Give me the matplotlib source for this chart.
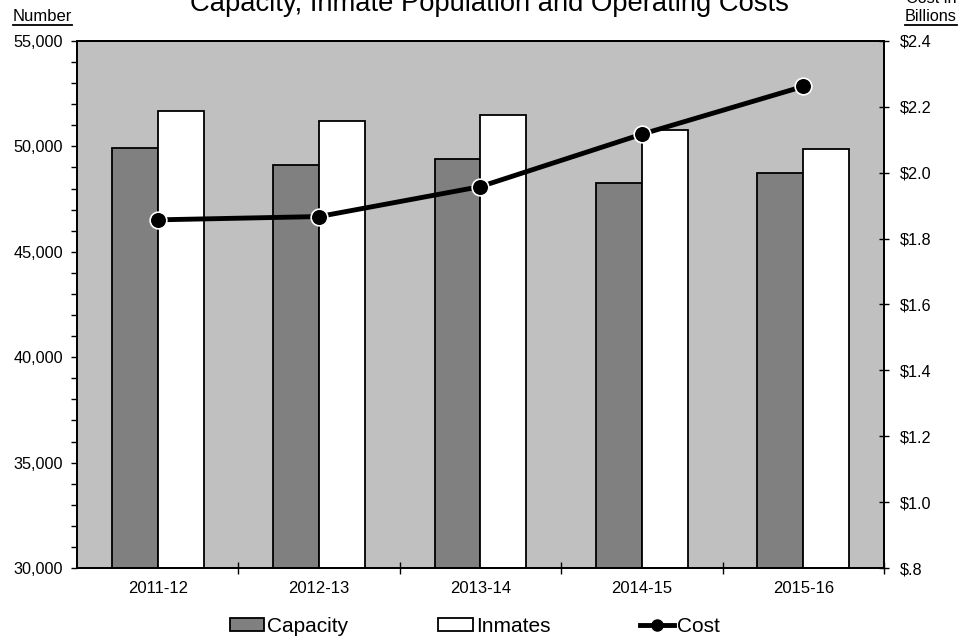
import matplotlib
matplotlib.use("Agg")
import matplotlib.pyplot as plt
from matplotlib.patches import Patch
from matplotlib.lines import Line2D
import numpy as np

# -------------------------------
# DATA
# -------------------------------
years = ["2011-12", "2012-13", "2013-14", "2014-15", "2015-16"]
capacity = [49930, 49110, 49380, 48280, 48750]
inmates = [51680, 51220, 51510, 50780, 49860]
cost = [1.857, 1.867, 1.958, 2.117, 2.262]  # billions

left_ticks = [30000, 35000, 40000, 45000, 50000, 55000]
right_ticks = [0.8, 1.0, 1.2, 1.4, 1.6, 1.8, 2.0, 2.2, 2.4]

plt.rcParams["font.family"] = ["Liberation Sans", "DejaVu Sans"]

fig = plt.figure(figsize=(9.61, 6.37), dpi=100)
ax = fig.add_axes([77 / 961, 69 / 637, 807 / 961, 527 / 637])
ax.set_facecolor("#C0C0C0")

x = np.arange(len(years))
w = 0.285
ax.bar(x - w / 2, capacity, w, color="#808080", edgecolor="black", linewidth=1.3, zorder=2)
ax.bar(x + w / 2, inmates, w, color="white", edgecolor="black", linewidth=1.3, zorder=2)

ax.set_xlim(-0.5, len(years) - 0.5)
ax.set_ylim(30000, 55000)
ax.set_yticks(left_ticks)
ax.set_yticklabels([f"{v:,}" for v in left_ticks])
ax.set_yticks(np.arange(30000, 55001, 1000), minor=True)
ax.tick_params(axis="y", which="both", direction="out", length=4, width=1, labelsize=11.7, pad=6)

# category labels in the middle, tick marks on the boundaries
ax.set_xticks(x + 0.5)
ax.set_xticklabels([])
ax.set_xticks(x, minor=True)
ax.set_xticklabels(years, minor=True)
ax.tick_params(axis="x", which="major", direction="inout", length=9, width=1)
ax.tick_params(axis="x", which="minor", length=0, labelsize=12, pad=9.5)

for s in ax.spines.values():
    s.set_linewidth(1.3)

# -------------------------------
# COST LINE (right axis)
# -------------------------------
ax2 = ax.twinx()
ax2.plot(x, cost, color="black", linewidth=3.5, marker="o", markersize=12,
         markerfacecolor="black", markeredgecolor="white", markeredgewidth=1.2, zorder=3)
ax2.set_ylim(0.8, 2.4)
ax2.set_yticks(right_ticks)
ax2.set_yticklabels([("$%.1f" % v).replace("$0.", "$.") for v in right_ticks])
ax2.tick_params(axis="y", direction="inout", length=7, width=1, labelsize=11.7, pad=8)
for s in ax2.spines.values():
    s.set_linewidth(1.3)

# -------------------------------
# TEXTS (title and "Cost in" sit partly above the top edge, as in the original)
# -------------------------------
fig.text(489 / 961, 1 - 10.7 / 637, "Capacity, Inmate Population and Operating Costs",
         ha="center", va="baseline", fontsize=19.7)
t_num = fig.text(13 / 961, 1 - 21 / 637, "Number", ha="left", va="baseline", fontsize=12)
fig.text(931 / 961, 1 - 3 / 637, "Cost in", ha="center", va="baseline", fontsize=11.7)
t_bil = fig.text(931 / 961, 1 - 21 / 637, "Billions", ha="center", va="baseline", fontsize=11.7)

# -------------------------------
# LEGEND
# -------------------------------
handles = [
    Patch(facecolor="#808080", edgecolor="black", linewidth=1.3),
    Patch(facecolor="white", edgecolor="black", linewidth=1.3),
    Line2D([0], [0], color="black", linewidth=3.5, marker="o", markersize=8,
           markerfacecolor="black", markeredgecolor="black"),
]
fig.legend(handles, ["Capacity", "Inmates", "Cost"], loc="center",
           bbox_to_anchor=(475 / 961, 11 / 637), ncol=3, frameon=False,
           fontsize=15, handlelength=1.65, handleheight=0.6, handletextpad=0.15,
           columnspacing=4.3)

# underline "Number" and "Billions"
fig.canvas.draw()
r = fig.canvas.get_renderer()
for t in (t_num, t_bil):
    bb = t.get_window_extent(r)
    yy = (637 - 24.5) / 637
    fig.add_artist(Line2D([bb.x0 / 961, bb.x1 / 961], [yy, yy], color="black",
                          linewidth=1.3, transform=fig.transFigure))

fig.savefig("out.png", dpi=100)
print("saved out.png")
